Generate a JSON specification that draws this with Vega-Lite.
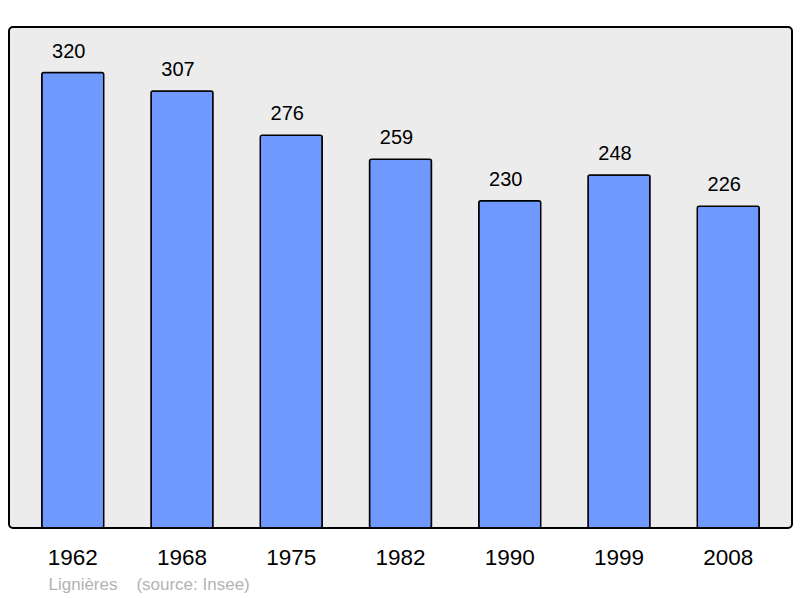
{
  "$schema": "https://vega.github.io/schema/vega-lite/v6.json",
  "autosize": "none",
  "width": 783,
  "height": 501,
  "padding": {"left": 9, "top": 27, "right": 8, "bottom": 70},
  "background": "white",
  "config": {
    "font": "Liberation Sans",
    "view": {"fill": "#ececec", "stroke": "#000000", "strokeWidth": 2, "cornerRadius": 4}
  },
  "data": {
    "values": [
      {"year": "1962", "pop": 320},
      {"year": "1968", "pop": 307},
      {"year": "1975", "pop": 276},
      {"year": "1982", "pop": 259},
      {"year": "1990", "pop": 230},
      {"year": "1999", "pop": 248},
      {"year": "2008", "pop": 226}
    ]
  },
  "encoding": {
    "x": {
      "field": "year",
      "type": "nominal",
      "sort": null,
      "scale": {"paddingInner": 0.433, "paddingOuter": 0.3},
      "axis": {
        "labelAngle": 0,
        "labelFontSize": 22.5,
        "labelColor": "#000000",
        "labelPadding": 18,
        "ticks": false,
        "domain": false,
        "title": "Lignières\u00a0\u00a0\u00a0\u00a0(source: Insee)",
        "titleFontSize": 17,
        "titleFontWeight": "normal",
        "titleColor": "#b3b3b3",
        "titleAlign": "left",
        "titleAnchor": "start",
        "titleBaseline": "middle",
        "titleX": 39,
        "titleY": 56
      }
    },
    "y": {
      "field": "pop",
      "type": "quantitative",
      "scale": {"domain": [0, 352], "nice": false, "zero": true},
      "axis": null
    }
  },
  "layer": [
    {
      "mark": {"type": "bar", "fill": "#7099ff", "stroke": "#000000", "strokeWidth": 1.5, "cornerRadius": 2}
    },
    {
      "mark": {"type": "text", "baseline": "alphabetic", "dy": -15, "dx": -4, "fontSize": 20, "color": "#000000"},
      "encoding": {"text": {"field": "pop", "type": "quantitative"}}
    }
  ]
}
